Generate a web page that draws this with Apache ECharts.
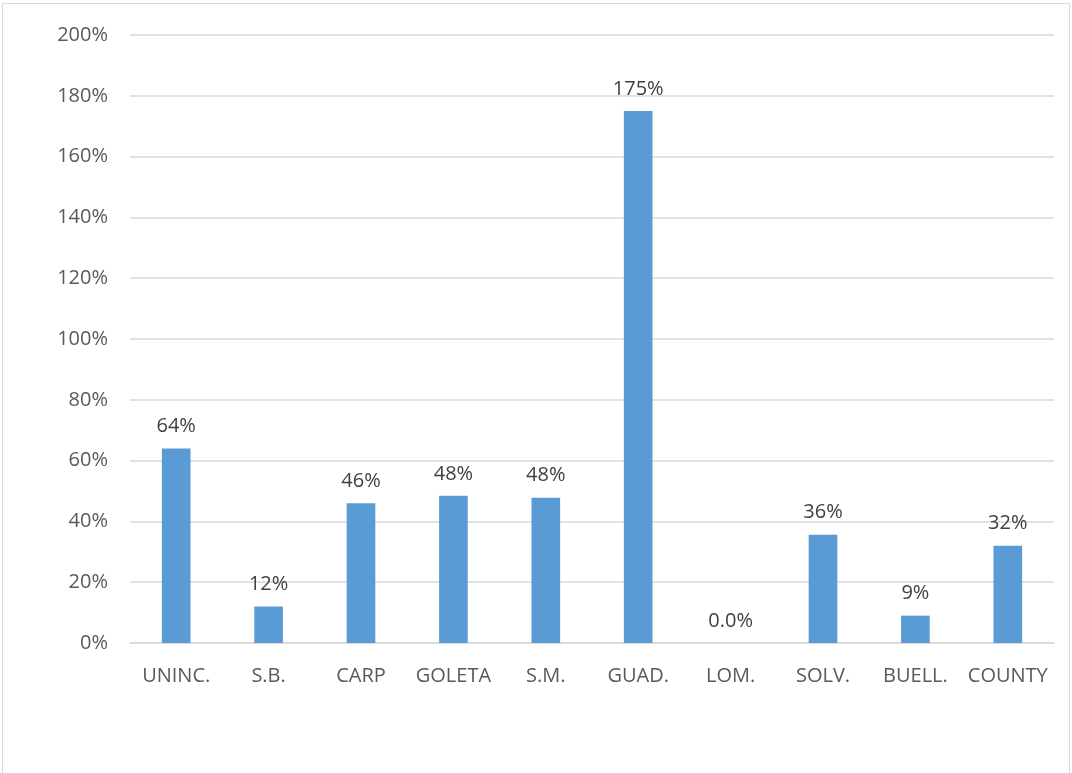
<!DOCTYPE html>
<html>
<head>
<meta charset="utf-8">
<script src="https://cdn.jsdelivr.net/npm/echarts@6/dist/echarts.min.js"></script>
<style>
  html, body { margin: 0; padding: 0; background: #fff; }
  #chart { width: 1072px; height: 773px; }
</style>
</head>
<body>
<div id="chart"></div>
<script>
var categories = ['UNINC.', 'S.B.', 'CARP', 'GOLETA', 'S.M.', 'GUAD.', 'LOM.', 'SOLV.', 'BUELL.', 'COUNTY'];
var changePct = [64, 12, 46, 48.4, 47.8, 175, 0, 35.6, 9, 32];
var yTicks = [0, 20, 40, 60, 80, 100, 120, 140, 160, 180, 200];

var barColor = '#5B9BD5';
var font = 'Open Sans';

var myChart = echarts.init(document.getElementById('chart'));
myChart.setOption({
    backgroundColor: '#fff',
    animation: false,
    graphic: [{
        type: 'rect',
        shape: { x: 2.5, y: 3.5, width: 1067, height: 780 },
        style: { fill: 'none', stroke: '#D9D9D9', lineWidth: 1 },
        silent: true
    }],
    grid: { left: 130, right: 18, top: 35, bottom: 130 },
    xAxis: {
        type: 'category',
        data: categories,
        axisLine: { lineStyle: { color: '#D9D9D9', width: 1.5 } },
        axisTick: { show: false },
        axisLabel: { color: '#595959', fontSize: 20, fontFamily: font, margin: 23, interval: 0 }
    },
    yAxis: {
        type: 'value',
        min: yTicks[0],
        max: yTicks[yTicks.length - 1],
        interval: 20,
        axisLine: { show: false },
        axisTick: { show: false },
        splitLine: { lineStyle: { color: '#D9D9D9', width: 1.5 } },
        axisLabel: {
            color: '#595959', fontSize: 20, fontFamily: font, margin: 22,
            formatter: function (v) { return v + '%'; }
        }
    },
    series: [{
        type: 'bar',
        data: changePct,
        barWidth: '31%',
        itemStyle: { color: barColor },
        label: {
            show: true,
            position: 'top',
            distance: 12,
            color: '#404040',
            fontSize: 20,
            fontFamily: font,
            formatter: function (p) {
                return p.value === 0 ? '0.0%' : Math.round(p.value) + '%';
            }
        }
    }]
});
</script>
</body>
</html>
